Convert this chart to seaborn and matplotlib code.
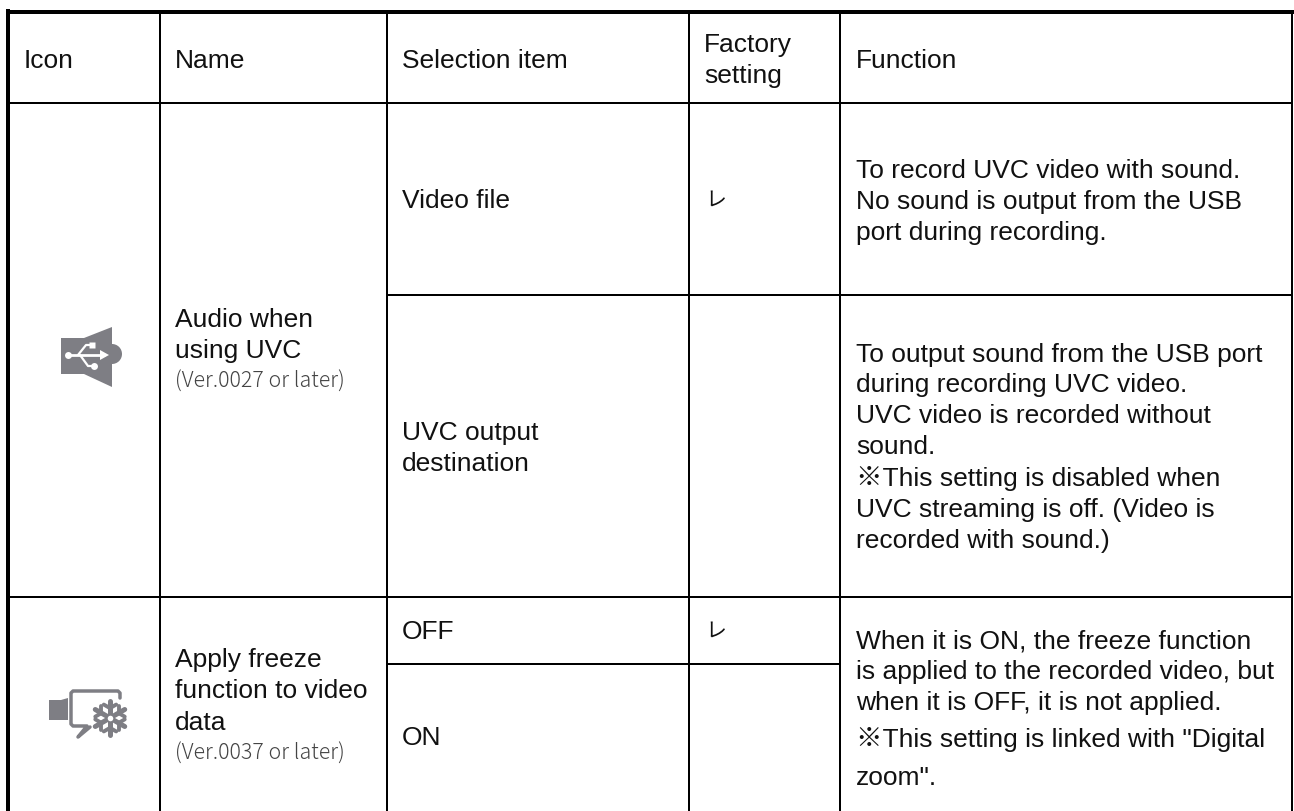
import numpy as np
import matplotlib
matplotlib.use("Agg")
import matplotlib.pyplot as plt
from matplotlib.patches import Polygon, Wedge
import seaborn as sns

# Table structure
col_edges = [160, 387, 689, 840, 1292]
full_rows = [103, 597]
sel_rows = [295]
short_row = 664

# Text content: (x, baseline y, string)
headers = [(24, 68, "Icon"), (175, 68, "Name"), (402, 68, "Selection item"),
           (704, 52, "Factory"), (704, 83, "setting"), (856, 68, "Function")]
names = [(175, 327, "Audio when"), (175, 358, "using UVC"),
         (175, 667, "Apply freeze"), (175, 698, "function to video"), (175, 730, "data")]
versions = [(175, 388, "(Ver.0027 or later)"), (175, 760, "(Ver.0037 or later)")]
selections = [(402, 208, "Video file"), (402, 440, "UVC output"), (402, 471, "destination"),
              (402, 639, "OFF"), (402, 745, "ON")]
functions = [(856, 178, "To record UVC video with sound."),
             (856, 209, "No sound is output from the USB"),
             (856, 240, "port during recording."),
             (856, 362, "To output sound from the USB port"),
             (856, 392, "during recording UVC video."),
             (856, 423, "UVC video is recorded without"),
             (856, 454, "sound."),
             (856, 486, "※This setting is disabled when"),
             (856, 517, "UVC streaming is off. (Video is"),
             (856, 548, "recorded with sound.)"),
             (856, 648, "When it is ON, the freeze function"),
             (856, 679, "is applied to the recorded video, but"),
             (856, 710, "when it is OFF, it is not applied."),
             (856, 747, "※This setting is linked with \"Digital"),
             (856, 785, "zoom\".")]
checks = [(716, 206, "レ"), (716, 637, "レ")]

sns.set_theme(style="white")
plt.rcParams['font.family'] = ['Liberation Sans', 'Noto Sans CJK JP', 'DejaVu Sans']

W, H = 1294, 811
fig = plt.figure(figsize=(W / 100, H / 100), dpi=100, facecolor="white")
ax = fig.add_axes([0, 0, 1, 1])
ax.set_xlim(0, W)
ax.set_ylim(H, 0)
ax.axis("off")

ink = "#000000"
px = 0.72  # one pixel in points at dpi 100

# grid
ax.vlines(col_edges, 12, H, color=ink, lw=2 * px)
ax.vlines([8], 9, H, color=ink, lw=4 * px)
ax.hlines([12], 6, W, color=ink, lw=4 * px)
ax.hlines(full_rows, 8, col_edges[-1], color=ink, lw=2 * px)
ax.hlines(sel_rows, col_edges[1], col_edges[-1], color=ink, lw=2 * px)
ax.hlines([short_row], col_edges[1], col_edges[3], color=ink, lw=2 * px)

FS = 19.0
for group in (headers, names, selections, functions):
    for x, y, s in group:
        ax.text(x, y, s, fontsize=FS, color="#111111", va="baseline", ha="left")
for x, y, s in versions:
    ax.text(x, y, s, fontsize=15.4, color="#444444", va="baseline", ha="left",
            family=['Noto Sans CJK JP', 'DejaVu Sans'], fontweight="light")
for x, y, s in checks:
    ax.text(x, y, s, fontsize=15, color="#111111", va="baseline", ha="center",
            family=['Noto Sans CJK JP', 'DejaVu Sans'])

grey = "#7e7e84"
# USB speaker icon
ax.add_patch(Polygon([(61, 338), (84, 338), (112, 327), (112, 387), (84, 374), (61, 374)],
                     closed=True, fc=grey, ec="none"))
ax.add_patch(Wedge((112, 354), 10, -90, 90, fc=grey, ec="none"))
ax.plot([68, 104], [355, 355], color="white", lw=2)
ax.plot([78, 86, 92], [355, 345, 345], color="white", lw=1.6)
ax.plot([80, 88, 94], [355, 366, 366], color="white", lw=1.6)
ax.plot([68], [355], "o", color="white", ms=5, mec="none")
ax.plot([94], [366], "o", color="white", ms=5, mec="none")
ax.plot([92], [345], "s", color="white", ms=4, mec="none")
ax.add_patch(Polygon([(100, 350), (109, 355), (100, 360)], closed=True, fc="white", ec="none"))

# Freeze video icon
ax.add_patch(Polygon([(49, 700), (61, 700), (68, 698), (68, 720), (61, 720), (49, 720)],
                     closed=True, fc=grey, ec="none"))
ax.plot([120, 120, 118, 73, 71, 71, 73, 87, 78, 90], [698, 693, 691, 691, 693, 724, 726, 726, 737, 727],
        color=grey, lw=2.5, solid_joinstyle="round")
cx, cy, R = 110, 718, 17
for a in np.deg2rad([90, 30, -30]):
    dx, dy = R * np.cos(a), R * np.sin(a)
    ax.plot([cx - dx, cx + dx], [cy - dy, cy + dy], color=grey, lw=3.6)
for a in np.deg2rad(np.arange(0, 360, 60) + 30):
    bx, by = cx + 0.58 * R * np.cos(a), cy + 0.58 * R * np.sin(a)
    for da in np.deg2rad([-60, 60]):
        ax.plot([bx, bx + 0.42 * R * np.cos(a + da)], [by, by + 0.42 * R * np.sin(a + da)],
                color=grey, lw=2.8)
ax.plot([cx], [cy], "o", color="white", ms=4, mec="none", zorder=5)

fig.savefig("out.png", dpi=100, facecolor="white")
